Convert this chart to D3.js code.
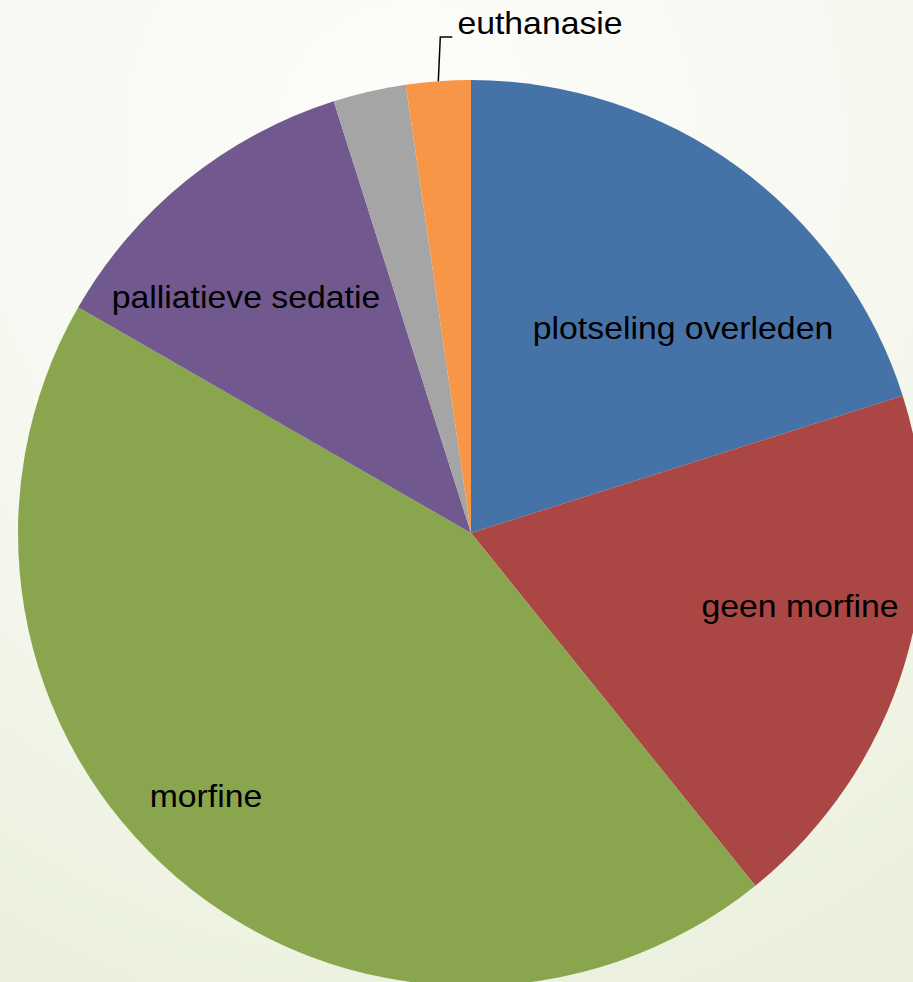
<!DOCTYPE html>
<html lang="nl">
<head>
<meta charset="utf-8">
<title>pie</title>
<script src="https://cdn.jsdelivr.net/npm/d3@7"></script>
<style>
  html, body { margin: 0; padding: 0; background: #f6f8f0; }
  svg { display: block; }
</style>
</head>
<body>
<script>
// slices, clockwise from 12 o'clock (percent)
var categories = ["plotseling overleden", "geen morfine", "morfine", "palliatieve sedatie", "", "euthanasie"];
var values = [20.1, 19.1, 44.1, 11.8, 2.6, 2.3];
var colors = ["#4572a7", "#aa4643", "#89a54e", "#71588f", "#a5a5a5", "#f79646"];

var w = 913, h = 982;
var cx = 471, cy = 533, r = 453;

// label anchors relative to the pie centre (text-anchor middle, baseline)
var labelPos = [[212, -194], [329, 84], [-265, 274], [-225, -225], null, [69, -499]];

var svg = d3.select("body").append("svg")
  .attr("width", w)
  .attr("height", h);

var grad = svg.append("defs").append("radialGradient")
  .attr("id", "bg")
  .attr("cx", "45%").attr("cy", "15%").attr("r", "95%");
grad.append("stop").attr("offset", "0%").attr("stop-color", "#fdfdfb");
grad.append("stop").attr("offset", "55%").attr("stop-color", "#f6f8f0");
grad.append("stop").attr("offset", "100%").attr("stop-color", "#eaf0db");

svg.append("rect")
  .attr("width", w).attr("height", h)
  .attr("fill", "url(#bg)");

var pie = d3.pie().sort(null).value(function(d){ return d; });
var arc = d3.arc().innerRadius(0).outerRadius(r);

var g = svg.append("g").attr("transform", "translate(" + cx + "," + cy + ")");

g.selectAll("path")
  .data(pie(values))
  .enter()
  .append("path")
  .attr("d", arc)
  .attr("fill", function(d, i){ return colors[i]; });

// leader line for the small orange slice
var last = pie(values)[5];
var mid = (last.startAngle + last.endAngle) / 2;
var ex = r * Math.sin(mid);
var ey = -r * Math.cos(mid);
g.append("polyline")
  .attr("points", [[ex, ey], [ex + 2, labelPos[5][1] + 3], [ex + 14, labelPos[5][1] + 3]].map(function(p){ return p.join(","); }).join(" "))
  .attr("fill", "none")
  .attr("stroke", "#000")
  .attr("stroke-width", 1.5);

g.selectAll("text.lbl")
  .data(categories)
  .enter()
  .filter(function(d, i){ return d !== ""; })
  .append("text")
  .attr("class", "lbl")
  .attr("transform", function(d){
    var i = categories.indexOf(d);
    return "translate(" + labelPos[i][0] + "," + labelPos[i][1] + ") scale(1.09,1)";
  })
  .attr("text-anchor", "middle")
  .attr("font-family", "'Liberation Sans', Arial, sans-serif")
  .attr("font-size", "31px")
  .attr("fill", "#000")
  .text(function(d){ return d; });
</script>
</body>
</html>
